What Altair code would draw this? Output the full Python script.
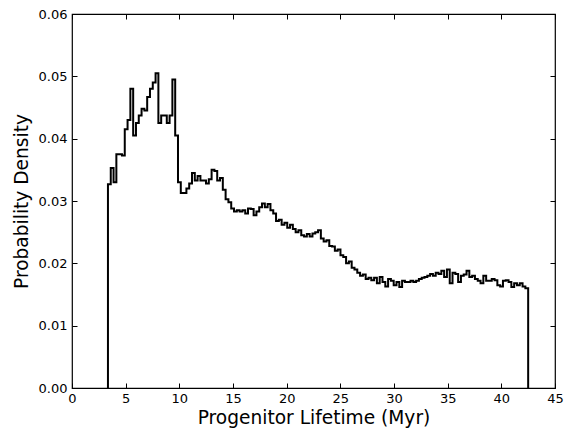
import altair as alt
import pandas as pd

# Histogram bins (Myr)
bin_start = 3.35
bin_width = 0.261

# Probability density per bin
density = [
    0.0327, 0.0353, 0.0330, 0.0375, 0.0375, 0.0373, 0.0415, 0.0430, 0.0480, 0.0405,
    0.0425, 0.0437, 0.0448, 0.0445, 0.0467, 0.0480, 0.0490, 0.0505, 0.0425, 0.0437,
    0.0437, 0.0425, 0.0437, 0.0495, 0.0405, 0.0330, 0.0313, 0.0313, 0.0320, 0.0328,
    0.0345, 0.0333, 0.0340, 0.0333, 0.0333, 0.0328, 0.0335, 0.0350, 0.0348, 0.0333,
    0.0337, 0.0318, 0.0303, 0.0298, 0.0288, 0.0283, 0.0285, 0.0283, 0.0285, 0.0280,
    0.0288, 0.0287, 0.0277, 0.0283, 0.0290, 0.0296, 0.0290, 0.0295, 0.0285, 0.0280,
    0.0268, 0.0270, 0.0262, 0.0265, 0.0257, 0.0262, 0.0255, 0.0250, 0.0253, 0.0245,
    0.0243, 0.0247, 0.0243, 0.0248, 0.0250, 0.0253, 0.0240, 0.0235, 0.0237, 0.0228,
    0.0227, 0.0220, 0.0222, 0.0213, 0.0210, 0.0200, 0.0203, 0.0193, 0.0190, 0.0185,
    0.0180, 0.0182, 0.0175, 0.0177, 0.0173, 0.0177, 0.0168, 0.0178, 0.0170, 0.0163,
    0.0175, 0.0172, 0.0165, 0.0170, 0.0162, 0.0172, 0.0170, 0.0170, 0.0172, 0.0170,
    0.0172, 0.0175, 0.0177, 0.0178, 0.0180, 0.0183, 0.0180, 0.0185, 0.0183, 0.0188,
    0.0178, 0.0190, 0.0168, 0.0185, 0.0183, 0.0170, 0.0180, 0.0182, 0.0188, 0.0178,
    0.0180, 0.0175, 0.0172, 0.0168, 0.0180, 0.0172, 0.0172, 0.0175, 0.0173, 0.0165,
    0.0163, 0.0172, 0.0173, 0.0170, 0.0162, 0.0168, 0.0165, 0.0168, 0.0163, 0.0160,
]

x_ticks = [0, 5, 10, 15, 20, 25, 30, 35, 40, 45]
y_ticks = [0.0, 0.01, 0.02, 0.03, 0.04, 0.05, 0.06]

# Build step outline
n = len(density)
edges = [bin_start + bin_width * i for i in range(n + 1)]
rows = [{"order": 0, "x": edges[0], "y": 0.0}]
for i, v in enumerate(density):
    rows.append({"order": i + 1, "x": edges[i], "y": v})
rows.append({"order": n + 1, "x": edges[n], "y": density[-1]})
rows.append({"order": n + 2, "x": edges[n], "y": 0.0})
df = pd.DataFrame(rows)

W, H = 483, 374
FONT = "DejaVu Sans"

xscale = alt.Scale(domain=[0, 45], nice=False, zero=False)
yscale = alt.Scale(domain=[0, 0.06], nice=False)

base = alt.Chart(df)

main = base.mark_line(interpolate="step-after", color="black", strokeWidth=2).encode(
    x=alt.X("x:Q", scale=xscale,
            axis=alt.Axis(orient="bottom", values=x_ticks, title="Progenitor Lifetime (Myr)",
                          ticks=False, domain=False, grid=False, labelPadding=4,
                          labelFontSize=13, titleFontSize=18.6, titleFontWeight="normal",
                          labelFont=FONT, titleFont=FONT, labelColor="black",
                          titleColor="black", titlePadding=3, labelFlush=False)),
    y=alt.Y("y:Q", scale=yscale,
            axis=alt.Axis(orient="left", values=y_ticks, format=".2f", title="Probability Density",
                          ticks=False, domain=False, grid=False, labelPadding=5,
                          labelFontSize=13, titleFontSize=18.6, titleFontWeight="normal",
                          labelFont=FONT, titleFont=FONT, labelColor="black",
                          titleColor="black", titlePadding=7, labelFlush=False)),
    order="order:Q",
)

tick_common = dict(labels=False, title=None, domain=False, grid=False, ticks=True,
                   tickSize=5, tickColor="black", tickWidth=1)

ticks_b = base.mark_line(opacity=0).encode(
    x=alt.X("x:Q", scale=xscale, axis=alt.Axis(orient="top", offset=-H, values=x_ticks, **tick_common)),
    y=alt.Y("y:Q", scale=yscale, axis=alt.Axis(orient="right", offset=-W, values=y_ticks, **tick_common)),
    order="order:Q",
)

ticks_t = base.mark_line(opacity=0).encode(
    x=alt.X("x:Q", scale=xscale, axis=alt.Axis(orient="bottom", offset=-H, values=x_ticks, **tick_common)),
    y=alt.Y("y:Q", scale=yscale, axis=alt.Axis(orient="left", offset=-W, values=y_ticks, **tick_common)),
    order="order:Q",
)

chart = alt.layer(main, ticks_b, ticks_t).resolve_axis(x="independent", y="independent").properties(
    width=W, height=H,
    autosize=alt.AutoSizeParams(type="none"),
    padding={"left": 64, "top": 6, "right": 10, "bottom": 40},
    background="white",
).configure_view(stroke="black", strokeWidth=1.2)

chart.save("out.html", embed_options={"renderer": "svg", "actions": False})
